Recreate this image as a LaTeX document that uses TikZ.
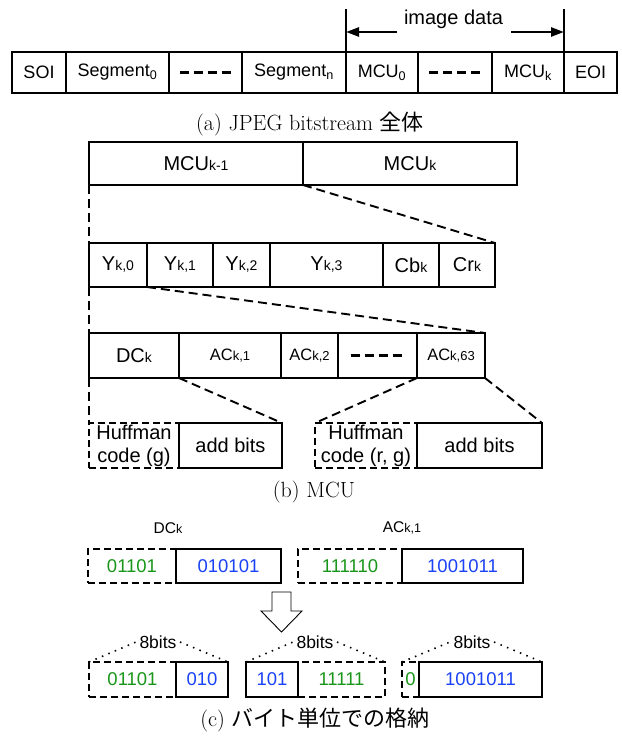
\documentclass[tikz,border=0pt]{standalone}
\usepackage{fontspec}
\setsansfont{Liberation Sans}
\newfontfamily\jpfont{Noto Sans CJK JP}
\usetikzlibrary{positioning}
\usetikzlibrary{arrows.meta}
\definecolor{bitgreen}{RGB}{25,150,25}
\definecolor{bitblue}{RGB}{25,65,245}
\newcommand{\idx}[2][14]{{\fontsize{#1}{#1}\selectfont #2}}

\begin{document}
\begin{tikzpicture}[x=1pt,y=-1pt,node distance=0pt,>={Triangle[length=13pt,width=9pt]}]
\tikzstyle{cell}=[rectangle,draw,line width=1.9pt,inner sep=0pt,outer sep=0pt,font=\sffamily\fontsize{20}{23}\selectfont]
\tikzstyle{dcell}=[cell,dash pattern=on 7pt off 4pt]
\tikzstyle{acell}=[cell,minimum height=41pt,font=\sffamily\fontsize{18}{18}\selectfont]
\tikzstyle{mrow}=[cell,minimum height=43pt]
\tikzstyle{yrow}=[cell,minimum height=44pt]
\tikzstyle{crow}=[cell,minimum height=45pt]
\tikzstyle{acrow}=[crow,font=\sffamily\fontsize{16.5}{16.5}\selectfont]
\tikzstyle{bitrow}=[minimum height=34pt,font=\sffamily\fontsize{18.5}{18.5}\selectfont]
\tikzstyle{byterow}=[minimum height=35pt,font=\sffamily\fontsize{18.5}{18.5}\selectfont]
\tikzstyle{link}=[line width=1.9pt,dash pattern=on 9pt off 5pt]
\tikzstyle{dashrule}=[line width=3.8pt,dash pattern=on 9pt off 5pt]
\tikzstyle{bytebrace}=[line width=1.6pt,dash pattern=on 1.5pt off 5.5pt]
\tikzstyle{figcap}=[font=\rmfamily\fontsize{22}{26}\selectfont]
\useasboundingbox (0,0) rectangle (621,738);

% (a) JPEG bitstream
\node[acell,minimum width=54pt,anchor=north west] (soi) at (12,52) {SOI};
\node[acell,minimum width=103pt,right=of soi] (seg0) {Segment\textsubscript{0}};
\node[acell,minimum width=73pt,right=of seg0] (segdots) {};
\node[acell,minimum width=104pt,right=of segdots] (segn) {Segment\textsubscript{n}};
\node[acell,minimum width=72pt,right=of segn] (mcu0) {MCU\textsubscript{0}};
\node[acell,minimum width=74pt,right=of mcu0] (mcudots) {};
\node[acell,minimum width=72pt,right=of mcudots] (mcuk) {MCU\textsubscript{k}};
\node[acell,minimum width=53pt,right=of mcuk] (eoi) {EOI};
\draw[dashrule] ([xshift=-26pt]segdots.center) -- ([xshift=26pt]segdots.center);
\draw[dashrule] ([xshift=-26pt]mcudots.center) -- ([xshift=26pt]mcudots.center);

\node[font=\sffamily\fontsize{20}{20}\selectfont] (imgdata) at (453.5,19) {image data};
\coordinate (imgl) at (346,9);
\coordinate (imgr) at (564,9);
\coordinate (arl) at (397,32);
\coordinate (arr) at (511,32);
\draw[line width=1.9pt] (imgl) -- (mcu0.north west);
\draw[line width=1.9pt] (imgr) -- (eoi.north west);
\draw[->,line width=2.5pt] (arl) -- (arl -| imgl);
\draw[->,line width=2.5pt] (arr) -- (arr -| imgr);

\node[figcap] (capa) at (310,124) {(a) JPEG bitstream {\jpfont 全体}};

% (b) MCU
\node[mrow,minimum width=214pt,anchor=north west] (mcuprev) at (89,142) {MCU\idx{k-1}};
\node[mrow,minimum width=214pt,right=of mcuprev] (mcucur) {MCU\idx{k}};

\node[yrow,minimum width=58pt,anchor=north west] (y0) at (89,243) {Y\idx{k,0}};
\node[yrow,minimum width=66pt,right=of y0] (y1) {Y\idx{k,1}};
\node[yrow,minimum width=57pt,right=of y1] (y2) {Y\idx{k,2}};
\node[yrow,minimum width=113pt,right=of y2] (y3) {Y\idx{k,3}};
\node[yrow,minimum width=56pt,right=of y3] (cb) {Cb\idx{k}};
\node[yrow,minimum width=56pt,right=of cb] (cr) {Cr\idx{k}};

\node[crow,minimum width=90pt,anchor=north west] (dc) at (89,333) {DC\idx{k}};
\node[acrow,minimum width=102pt,right=of dc] (ac1) {AC\idx[13]{k,1}};
\node[acrow,minimum width=57pt,right=of ac1] (ac2) {AC\idx[13]{k,2}};
\node[crow,minimum width=79pt,right=of ac2] (acdots) {};
\node[acrow,minimum width=68pt,right=of acdots] (ac63) {AC\idx[13]{k,63}};
\draw[dashrule] ([xshift=-27pt]acdots.center) -- ([xshift=27pt]acdots.center);

\node[crow,dcell,minimum width=90pt,anchor=north west,align=center] (huffdc) at (89,423) {Huffman\\code (g)};
\node[crow,minimum width=103pt,right=of huffdc] (adddc) {add bits};
\node[crow,dcell,minimum width=102pt,anchor=north west,align=center] (huffac) at (315,423) {Huffman\\code (r, g)};
\node[crow,minimum width=125pt,right=of huffac] (addac) {add bits};

\draw[link] (mcuprev.south west) -- (y0.north west);
\draw[link] (mcuprev.south east) -- (cr.north east);
\draw[link] (y0.south west) -- (dc.north west);
\draw[link] (y0.south east) -- (ac63.north east);
\draw[link] (dc.south west) -- (huffdc.north west);
\draw[link] (dc.south east) -- (adddc.north east);
\draw[link] (ac63.south west) -- (huffac.north west);
\draw[link] (ac63.south east) -- (addac.north east);

\node[figcap] (capb) at (314,492) {(b) MCU};

% (c) byte packing
\node[font=\sffamily\fontsize{15.5}{15.5}\selectfont] (dclbl) at (168,528) {DC\idx[12.5]{k}};
\node[font=\sffamily\fontsize{15.5}{15.5}\selectfont] (aclbl) at (402,528) {AC\idx[12.5]{k,1}};

\node[dcell,bitrow,minimum width=88pt,anchor=north west,text=bitgreen] (dchuff) at (88,549) {01101};
\node[cell,bitrow,minimum width=105pt,right=of dchuff,text=bitblue] (dcadd) {010101};
\node[dcell,bitrow,minimum width=104pt,anchor=north west,text=bitgreen] (achuff) at (298,549) {111110};
\node[cell,bitrow,minimum width=121pt,right=of achuff,text=bitblue] (acadd) {1001011};

\draw[line width=0.9pt] (272,592) -- (291,592) -- (291,611) -- (302,611) -- (281.5,632)
  -- (261,611) -- (272,611) -- cycle;

\node[dcell,byterow,minimum width=87pt,anchor=north west,text=bitgreen] (b1huff) at (89,662) {01101};
\node[cell,byterow,minimum width=52pt,right=of b1huff,text=bitblue] (b1add) {010};
\node[dcell,byterow,minimum width=87pt,anchor=north west,text=bitgreen] (b2huff) at (298,662) {11111};
\node[cell,byterow,minimum width=52pt,left=of b2huff,text=bitblue] (b2add) {101};
\node[dcell,byterow,minimum width=17pt,anchor=north west,text=bitgreen] (b3huff) at (402,662) {0};
\node[cell,byterow,minimum width=123pt,right=of b3huff,text=bitblue] (b3add) {1001011};

\node[font=\sffamily\fontsize{17.5}{17.5}\selectfont] (lbl1) at (158,642) {8bits};
\node[font=\sffamily\fontsize{17.5}{17.5}\selectfont] (lbl2) at (315,642) {8bits};
\node[font=\sffamily\fontsize{17.5}{17.5}\selectfont] (lbl3) at (472,642) {8bits};
\draw[bytebrace] (b1huff.north west) -- (lbl1.west);
\draw[bytebrace] (lbl1.east) -- (b1add.north east);
\draw[bytebrace] (b2add.north west) -- (lbl2.west);
\draw[bytebrace] (lbl2.east) -- (b2huff.north east);
\draw[bytebrace] (b3huff.north west) -- (lbl3.west);
\draw[bytebrace] (lbl3.east) -- (b3add.north east);

\node[figcap] (capc) at (315,720) {(c) {\jpfont バイト単位での格納}};
\end{tikzpicture}
\end{document}
